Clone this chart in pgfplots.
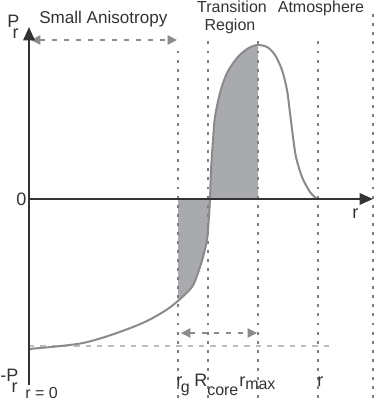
\documentclass[border=0pt]{standalone}
\usepackage{fontspec}
\setmainfont{Liberation Sans}
\usepackage{pgfplots}
\pgfplotsset{compat=1.18}
\usetikzlibrary{arrows.meta}

\definecolor{axisdark}{HTML}{333333}
\definecolor{curvegray}{HTML}{8A8A8C}
\definecolor{fillgray}{HTML}{A9AAAD}
\definecolor{dotgray}{HTML}{7F7F7F}
\definecolor{lightdash}{HTML}{BDBDBD}
\definecolor{arrowgray}{HTML}{8C8C8C}

\begin{document}
\begin{tikzpicture}[
    lbl/.style={font=\fontsize{12}{14}\selectfont, text=axisdark, inner sep=0pt},
    big/.style={font=\fontsize{13.5}{15}\selectfont, text=axisdark, inner sep=0pt},
  ]
  \begin{axis}[
      width=282pt, height=300pt, scale only axis,
      xmin=0, xmax=376, ymin=0, ymax=400,
      hide axis, clip=false,
      vline/.style={dotgray, line width=1.1pt, dash pattern=on 2.2pt off 4.6pt},
      dashedarrow/.style={arrowgray, line width=1pt, dash pattern=on 3.5pt off 5.5pt,
        {Triangle[length=7pt,width=7pt]}-{Triangle[length=7pt,width=7pt]}},
    ]
    \path (axis cs:0,0) rectangle (axis cs:376,400);

    % shaded region between r_g and r_max
    \addplot[fill=fillgray, draw=none] coordinates {
      (178,201) (178,99) (185,106) (192,113) (198,127) (203,143) (207,160)
      (208.5,177) (210,201) (211,230) (213,260) (215,283) (220,307) (227,327)
      (237,342) (247,351) (257,355) (258,355) (258,201)
    } -- cycle;

    % dotted guide lines
    \addplot[vline] coordinates {(178,2) (178,350)};
    \addplot[vline] coordinates {(208,2) (208,363)};
    \addplot[vline] coordinates {(258,2) (258,363)};
    \addplot[vline] coordinates {(318,2) (318,363)};
    \addplot[vline] coordinates {(373,2) (373,388)};

    % light dashed level of -P_r
    \addplot[lightdash, line width=1pt, dash pattern=on 4pt off 4.5pt] coordinates {(29,54) (335,54)};

    % double arrows
    \addplot[dashedarrow] coordinates {(31,360) (177,360)};
    \addplot[dashedarrow] coordinates {(181,67) (257,67)};

    % curve
    \addplot[curvegray, line width=1.5pt, smooth, tension=0.5] coordinates {
      (29,51) (56,53.5) (83,57) (108,64) (133,73) (150,80.5) (167,90.5) (179,100)
      (192,113) (198,127) (203,143) (207,160) (208.5,177) (210,201) (211,230)
      (213,260) (215,283) (220,307) (227,327) (237,342) (247,351) (257,355)
      (267,353) (275,345) (282,330) (287,310) (290,287) (293,263) (296,243)
      (302,223) (310,208) (317,201)
    };

    % axes
    \addplot[axisdark, line width=1.6pt, -{Triangle[length=10pt,width=8.5pt]}] coordinates {(29,15) (29,373)};
    \addplot[axisdark, line width=1.6pt, -{Triangle[length=10pt,width=8.5pt]}] coordinates {(29,201) (373,201)};

    % labels
    \node[big, anchor=base west] at (axis cs:7,372) {P\kern-5pt\raisebox{-8pt}{r}};
    \node[lbl, font=\fontsize{12.8}{14}\selectfont, anchor=base west] at (axis cs:39,376) {Small Anisotropy};
    \node[lbl, anchor=base] at (axis cs:232,387) {Transition};
    \node[lbl, anchor=base] at (axis cs:230,369) {Region};
    \node[lbl, anchor=base] at (axis cs:321,387) {Atmosphere};
    \node[big, anchor=base west] at (axis cs:16,194) {0};
    \node[big, anchor=base west] at (axis cs:0,18) {-P\kern-5pt\raisebox{-8pt}{r}};
    \node[lbl, anchor=base west] at (axis cs:25,2) {r = 0};
    \node[big, anchor=base west] at (axis cs:176,13) {r\kern-1pt\raisebox{-4pt}{\fontsize{12}{12}\selectfont g}};
    \node[big, anchor=base west] at (axis cs:194,13) {R\raisebox{-6pt}{\fontsize{12}{12}\selectfont core}};
    \node[big, anchor=base west] at (axis cs:239,13) {r\raisebox{-1.5pt}{\fontsize{12}{12}\selectfont max}};
    \node[big, anchor=base west] at (axis cs:317,13) {r};
    \node[big, anchor=base west] at (axis cs:352,181) {r};
  \end{axis}
\end{tikzpicture}
\end{document}
